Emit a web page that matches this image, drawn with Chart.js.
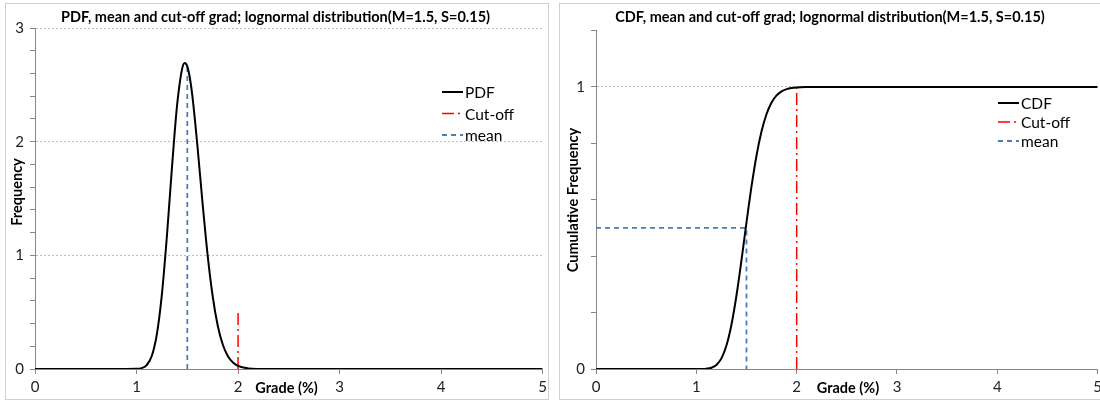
<!DOCTYPE html>
<html>
<head>
<meta charset="utf-8">
<script src="https://cdn.jsdelivr.net/npm/chart.js@4/dist/chart.umd.min.js"></script>
<style>
  html, body { margin: 0; padding: 0; background: #fff; overflow: hidden; width: 1100px; height: 402px; }
  .panel { position: absolute; top: 3px; height: 395px; border: 1px solid #d0d0d0; background: #fff; overflow: hidden; }
  #p1 { left: 5px; width: 542px; }
  #p2 { left: 559px; width: 546px; }
  canvas { display: block; }
</style>
</head>
<body>
<div class="panel" id="p1"><canvas id="pdfChart" width="545" height="395"></canvas></div>
<div class="panel" id="p2"><canvas id="cdfChart" width="546" height="395"></canvas></div>
<script>
// grade values (%) along the x axis
const grades = [0, 0.9, 1.0, 1.05, 1.1, 1.15, 1.2, 1.25, 1.3, 1.35, 1.4, 1.45, 1.475, 1.5, 1.525,
  1.55, 1.6, 1.65, 1.7, 1.75, 1.8, 1.85, 1.9, 1.95, 2.0, 2.1, 2.2, 2.4, 5];
// frequency
const pdfValues = [0, 0, 0.0013, 0.0076, 0.034, 0.114, 0.305, 0.659, 1.179, 1.785, 2.325, 2.645, 2.693,
  2.663, 2.562, 2.402, 1.961, 1.462, 1.004, 0.64, 0.381, 0.213, 0.113, 0.057, 0.027, 0.0054, 0.0009, 0, 0];
// cumulative frequency
const cdfValues = [0, 0, 0.00003, 0.0002, 0.0011, 0.0045, 0.0144, 0.0377, 0.0831, 0.1571, 0.2605, 0.3859,
  0.4528, 0.5199, 0.5853, 0.6475, 0.757, 0.8426, 0.904, 0.9447, 0.9698, 0.9843, 0.9922, 0.9963, 0.9983,
  0.9997, 1, 1, 1];

// marker lines
const pdfCutX = [2, 2];
const pdfCutY = [0, 0.5];
const pdfMeanX = [1.5, 1.5];
const pdfMeanY = [0, 2.66];
const cdfCutX = [2, 2];
const cdfCutY = [0, 1];
const cdfMeanX = [0, 1.5, 1.5];
const cdfMeanY = [0.5, 0.5, 0];

const xTicks = [0, 1, 2, 3, 4, 5];

const FONT = "Lato";
const AXIS_GREY = "#868686";

function pts(xs, ys) {
  return xs.map((x, i) => ({ x: x, y: ys[i] }));
}

// legend + axis titles drawn where Excel put them
const sideText = {
  id: "sideText",
  afterDraw(chart, args, opts) {
    const ctx = chart.ctx;
    const xs = chart.scales.x;
    ctx.save();
    ctx.fillStyle = "#000";
    ctx.font = "bold 14.5px " + FONT;
    ctx.textAlign = "center";
    ctx.textBaseline = "middle";
    ctx.save();
    ctx.translate(opts.yTitleX, opts.yTitleY);
    ctx.rotate(-Math.PI / 2);
    ctx.fillText(opts.yTitle, 0, 0);
    ctx.restore();
    ctx.textAlign = "left";
    ctx.fillText(opts.xTitle, xs.getPixelForValue(opts.xTitleAt), opts.xTitleY);

    ctx.font = "15.5px " + FONT;
    chart.data.datasets.forEach((ds, i) => {
      const y = opts.legendY + i * opts.legendGap;
      ctx.strokeStyle = ds.borderColor;
      ctx.lineWidth = ds.borderWidth;
      ctx.setLineDash(ds.borderDash || []);
      ctx.beginPath();
      ctx.moveTo(opts.legendX, y);
      ctx.lineTo(opts.legendX + 21, y);
      ctx.stroke();
      ctx.setLineDash([]);
      ctx.fillText(ds.label, opts.legendX + 23, y + 1);
    });
    ctx.restore();
  }
};

function isWhole(v) {
  return Math.abs(v - Math.round(v)) < 1e-6;
}

function makeChart(canvasId, cfg) {
  const ctx = document.getElementById(canvasId).getContext("2d");
  return new Chart(ctx, {
    type: "line",
    data: {
      datasets: [
        {
          label: cfg.curveLabel,
          data: pts(grades, cfg.curve),
          borderColor: "#000000",
          borderWidth: 2,
          pointRadius: 0,
          cubicInterpolationMode: "monotone",
        },
        {
          label: "Cut-off",
          data: pts(cfg.cutX, cfg.cutY),
          borderColor: "#ff0000",
          borderWidth: 1.5,
          borderDash: [12, 4, 2, 4],
          pointRadius: 0,
        },
        {
          label: "mean",
          data: pts(cfg.meanX, cfg.meanY),
          borderColor: "#4a7ebb",
          borderWidth: 1.8,
          borderDash: [5, 4],
          pointRadius: 0,
        },
      ],
    },
    options: {
      responsive: false,
      animation: false,
      devicePixelRatio: 1,
      layout: { padding: { left: 0, right: cfg.padRight, top: 0, bottom: 0 } },
      scales: {
        x: {
          type: "linear",
          min: 0,
          max: 5,
          afterBuildTicks: (scale) => { scale.ticks = xTicks.map((v) => ({ value: v })); },
          afterFit: (scale) => { scale.height = 30; },
          ticks: { font: { family: FONT, size: 15 }, color: "#222", padding: 4, maxRotation: 0 },
          grid: { drawOnChartArea: false, tickLength: 5, color: AXIS_GREY },
          border: { color: AXIS_GREY },
        },
        y: {
          min: 0,
          max: cfg.yMax,
          afterFit: (scale) => { scale.width = cfg.yWidth; },
          ticks: {
            stepSize: 0.2,
            autoSkip: false,
            font: { family: FONT, size: 15 },
            color: "#222",
            padding: 6,
            callback: (v) => (isWhole(v) && v <= cfg.lastLabel ? String(Math.round(v)) : ""),
          },
          grid: {
            color: (c) => (c.tick && isWhole(c.tick.value) && c.tick.value > 0 && c.tick.value <= cfg.lastLabel ? "#bdbdbd" : "rgba(0,0,0,0)"),
            tickColor: AXIS_GREY,
            tickLength: 5,
          },
          border: { color: AXIS_GREY, dash: [2, 2] },
        },
      },
      plugins: {
        legend: { display: false },
        tooltip: { enabled: false },
        title: {
          display: true,
          text: cfg.title,
          color: "#000",
          font: { family: FONT, size: 14.5, weight: "bold" },
          padding: { top: 4.5, bottom: cfg.titleBottom },
        },
        sideText: cfg.side,
      },
    },
    plugins: [sideText],
  });
}

makeChart("pdfChart", {
  title: "PDF, mean and cut-off grad; lognormal distribution(M=1.5, S=0.15)",
  curveLabel: "PDF",
  curve: pdfValues,
  cutX: pdfCutX, cutY: pdfCutY,
  meanX: pdfMeanX, meanY: pdfMeanY,
  yMax: 3, lastLabel: 3, yWidth: 29, padRight: 6, titleBottom: 2.1,
  side: {
    yTitle: "Frequency", yTitleX: 11, yTitleY: 188,
    xTitle: "Grade (%)", xTitleAt: 2.17, xTitleY: 384,
    legendX: 436, legendY: 88, legendGap: 21.5,
  },
});

makeChart("cdfChart", {
  title: "CDF, mean and cut-off grad; lognormal distribution(M=1.5, S=0.15)",
  curveLabel: "CDF",
  curve: cdfValues,
  cutX: cdfCutX, cutY: cdfCutY,
  meanX: cdfMeanX, meanY: cdfMeanY,
  yMax: 1.2, lastLabel: 1, yWidth: 36, padRight: 6, titleBottom: 4.6,
  side: {
    yTitle: "Cumulative Frequency", yTitleX: 13, yTitleY: 196,
    xTitle: "Grade (%)", xTitleAt: 2.2, xTitleY: 384,
    legendX: 438, legendY: 99, legendGap: 19,
  },
});
</script>
</body>
</html>
